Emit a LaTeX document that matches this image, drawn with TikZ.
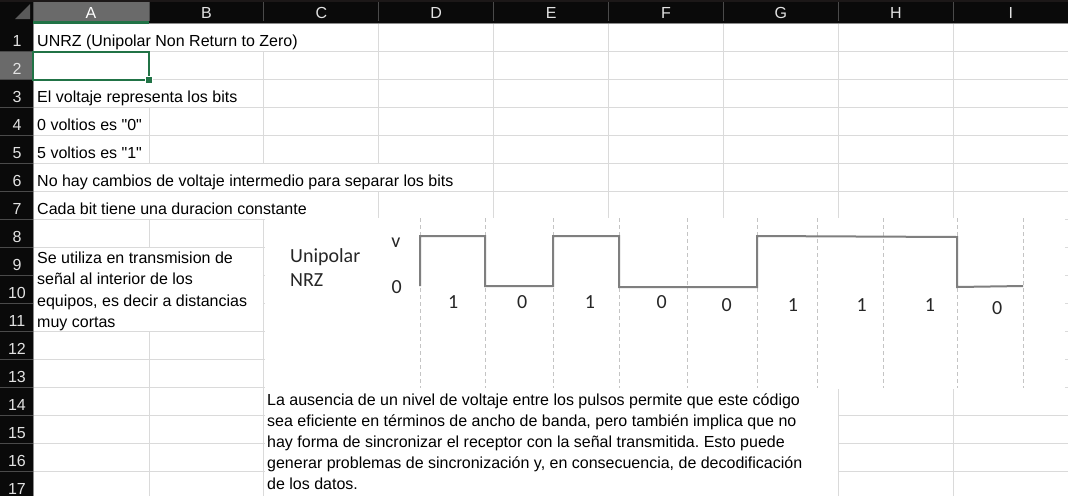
\documentclass[tikz,border=0pt]{standalone}
\usepackage{fontspec}
\setmainfont{Liberation Sans}[Ligatures=TeXOff]
\newfontfamily\chartfamily{Carlito}
\definecolor{hdrbg}{HTML}{0A0A0A}
\definecolor{hdrtop}{HTML}{1C1818}
\definecolor{hdrsel}{HTML}{6A6A6A}
\definecolor{hdrsep}{HTML}{4A4A4A}
\definecolor{hdrline}{HTML}{8C8C8C}
\definecolor{hdrtri}{HTML}{5A5A5A}
\definecolor{hdrtxt}{HTML}{E2E2E2}
\definecolor{gridc}{HTML}{DADADA}
\definecolor{xlgreen}{HTML}{217346}
\definecolor{sigc}{HTML}{7F7F7F}
\definecolor{dashc}{HTML}{C4C4C4}
\definecolor{charttxt}{HTML}{262626}
\begin{document}
\frenchspacing
\begin{tikzpicture}[x=1pt,y=-1pt,
  cell/.style={anchor=base west,inner sep=0pt,font=\fontsize{16}{19}\selectfont,text=black},
  hdr/.style={anchor=base,inner sep=0pt,font=\fontsize{16}{19}\selectfont,text=hdrtxt},
  charttext/.style={anchor=base,inner sep=0pt,font=\chartfamily\fontsize{20}{23}\selectfont,text=charttxt},
  chartleft/.style={charttext,anchor=base west},
  gridln/.style={draw=gridc,line width=1pt},
  hsep/.style={draw=hdrsep,line width=1pt},
  bitdash/.style={draw=dashc,line width=1pt,dash pattern=on 4pt off 3pt},
  signal/.style={draw=sigc,line width=2pt,line join=miter}
  ]
\useasboundingbox (0,0) rectangle (1068,496);
\fill[white] (0,0) rectangle (1068,496);

% gridlines
\foreach \k in {1,...,17} {\draw[gridln] (33,{23+\k*28.02}) -- (1068,{23+\k*28.02});}
\foreach \j in {0,...,7} {\draw[gridln] ({149+\j*114.9},23) -- ({149+\j*114.9},496);}

% hidden gridlines (overflowing text, text boxes, picture)
\fill[white] (140,23.6) rectangle (270,50.5);
\fill[white] (140,79.6) rectangle (160,106.5);
\fill[white] (140,163.6) rectangle (480,190.6);
\fill[white] (140,191.7) rectangle (270,218.6);
\fill[white] (33.6,247.7) rectangle (263.4,330.7);
\fill[white] (265,217.5) rectangle (1065,388.5);
\fill[white] (265,388) rectangle (837.8,496);

% headers
\fill[hdrbg] (0,0) rectangle (1068,23);
\fill[hdrtop] (0,0) rectangle (1068,2);
\fill[hdrbg] (0,23) rectangle (33,496);
\fill[hdrsel] (33,2) rectangle (149,23);
\fill[xlgreen] (33,21) rectangle (149,23.5);
\fill[hdrsel] (0,51.5) rectangle (33,80);
\draw[hsep] (33,2) -- (33,21);
\foreach \j in {0,...,7} {\draw[hsep] ({149+\j*114.9},2) -- ({149+\j*114.9},21);}
\foreach \k in {1,...,17} {\draw[hsep] (0,{23+\k*28.02}) -- (32.5,{23+\k*28.02});}
\draw[draw=hdrline,line width=1pt] (149,23) -- (1068,23);
\draw[draw=hdrline,line width=0.6pt] (33,23.5) -- (33,496);
\fill[hdrtri] (15,19) -- (30,19) -- (30,4) -- cycle;

\node[hdr,text=white] (colA) at (91,18.8) {A};
\foreach \c [count=\n] in {B,C,D,E,F,G,H,I}
  {\node[hdr] (col\c) at ({149+(\n-1)*114.9+57.45},18.8) {\c};}
\foreach \r in {1,...,17}
  {\node[hdr] (row\r) at (17,{23+\r*28.02-4.5}) {\r};}

% selected cell A2
\draw[xlgreen,line width=2pt] (33,51.5) rectangle (149,80);
\fill[xlgreen,draw=white,line width=0.8pt] (145.5,76.5) rectangle (152,83);

% cell texts
\node[cell] (t1) at (37,{23+1*28.02-4.5}) {UNRZ (Unipolar Non Return to Zero)};
\node[cell] (t3) at (37,{23+3*28.02-4.5}) {El voltaje representa los bits};
\node[cell] (t4) at (37,{23+4*28.02-4.5}) {0 voltios es "0"};
\node[cell] (t5) at (37,{23+5*28.02-4.5}) {5 voltios es "1"};
\node[cell] (t6) at (37,{23+6*28.02-4.5}) {No hay cambios de voltaje intermedio para separar los bits};
\node[cell] (t7) at (37,{23+7*28.02-4.5}) {Cada bit tiene una duracion constante};

% left text box
\node[cell] (b1) at (37,263.3) {Se utiliza en transmision de};
\node[cell] (b2) at (37,284.6) {señal al interior de los};
\node[cell] (b3) at (37,306) {equipos, es decir a distancias};
\node[cell] (b4) at (37,327.6) {muy cortas};

% bottom text box
\node[cell] (p1) at (267,405) {La ausencia de un nivel de voltaje entre los pulsos permite que este código};
\node[cell] (p2) at (267,426.2) {sea eficiente en términos de ancho de banda, pero también implica que no};
\node[cell] (p3) at (267,447.4) {hay forma de sincronizar el receptor con la señal transmitida. Esto puede};
\node[cell] (p4) at (267,468.6) {generar problemas de sincronización y, en consecuencia, de decodificación};
\node[cell] (p5) at (267,489.8) {de los datos.};

% chart: bit boundaries
\foreach \x in {420,485,553,619,687,757,817,883,957,1023}
  {\draw[bitdash] (\x,218) -- (\x,388);}

% chart: signal
\draw[signal] (420,286) -- (420,236) -- (485,236) -- (485,286) -- (553,286)
  -- (553,236) -- (619,236) -- (619,287) -- (757,287) -- (757,236)
  -- (957,237) -- (957,287) -- (1023,286);

% chart labels
\node[chartleft] (lab1) at (290,262.3) {Unipolar};
\node[chartleft] (lab2) at (290,286.7) {NRZ};
\node[charttext] (vlab) at (396,247.3) {v};
\node[charttext] (zlab) at (396.7,293.3) {0};

\node[charttext] (bit1) at (453.3,308.3) {1};
\node[charttext] (bit2) at (522.3,308.3) {0};
\node[charttext] (bit3) at (590,308.3) {1};
\node[charttext] (bit4) at (661.7,308.8) {0};
\node[charttext] (bit5) at (726.7,311.7) {0};
\node[charttext] (bit6) at (793,311.7) {1};
\node[charttext] (bit7) at (861.7,311.7) {1};
\node[charttext] (bit8) at (930,311.7) {1};
\node[charttext] (bit9) at (997.3,314.3) {0};
\end{tikzpicture}
\end{document}
